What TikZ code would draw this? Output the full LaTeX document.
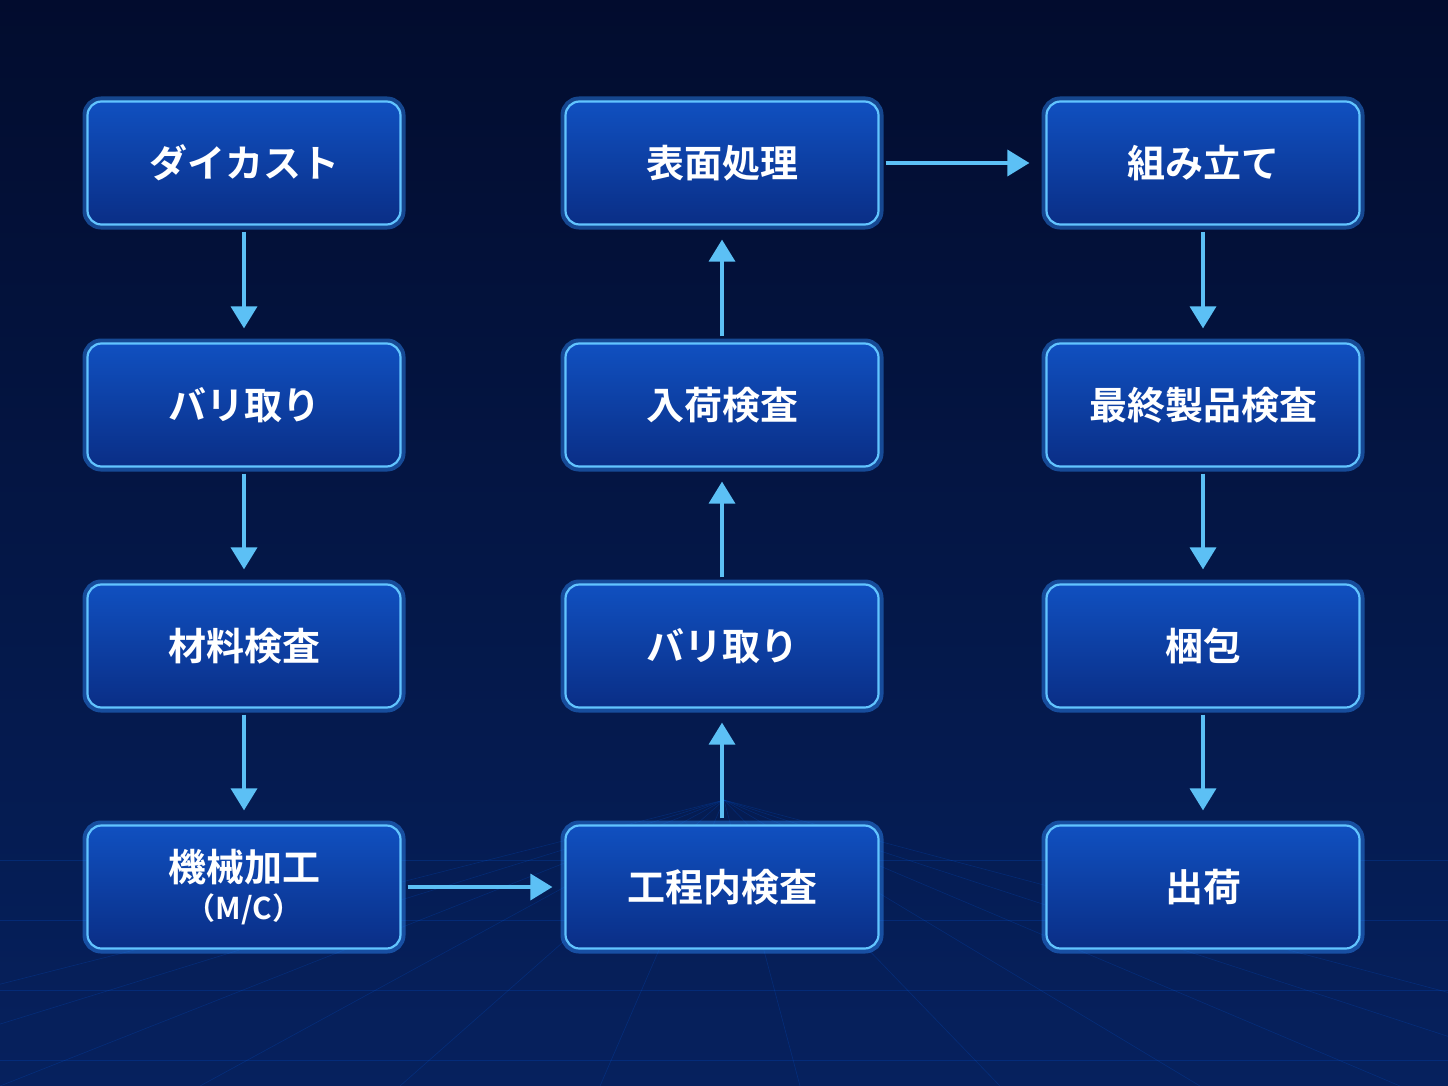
\documentclass[tikz,border=0pt]{standalone}
\usepackage{fontspec}
\newfontfamily\cjk{Noto Sans CJK JP}[BoldFont={Noto Sans CJK JP Bold}]
\usetikzlibrary{arrows.meta}
\definecolor{bgA}{HTML}{020C2E}
\definecolor{bgB}{HTML}{06215E}
\definecolor{boxA}{HTML}{1050C0}
\definecolor{boxB}{HTML}{0A2E86}
\definecolor{edge}{HTML}{62C4FF}
\definecolor{glowc}{HTML}{2E8CFF}
\definecolor{arr}{HTML}{5CC0F5}
\begin{document}
\begin{tikzpicture}[x=1pt,y=-1pt,
  glow/.style={draw=glowc,line width=9pt,rounded corners=14pt,opacity=0.45},
  box/.style={draw=edge,line width=2.2pt,rounded corners=14pt,top color=boxA,bottom color=boxB,
    minimum width=313pt,minimum height=123pt,text=white,font=\cjk\bfseries\fontsize{38}{44}\selectfont,align=center},
  flow/.style={draw=arr,line width=3.5pt,-{Triangle[length=22pt,width=26pt]}}]
\fill[top color=bgA,bottom color=bgB] (0,0) rectangle (1448,1086);
\useasboundingbox (0,0) rectangle (1448,1086);
\begin{scope}[draw=blue!60!cyan,opacity=0.18,line width=0.6pt]
\foreach \x in {-400,-200,...,1800} \draw (724,800) -- (\x,1086);
\foreach \y in {860,920,990,1060} \draw (0,\y) -- (1448,\y);
\end{scope}
\foreach \n/\x/\y/\t in {a/244/163/ダイカスト,b/244/405/バリ取り,c/244/646/材料検査,d/244/887/{機械加工\\[-6pt]{\fontsize{30}{34}\selectfont（M/C）}},
 e/722/887/工程内検査,f/722/646/バリ取り,g/722/405/入荷検査,h/722/163/表面処理,
 i/1203/163/組み立て,j/1203/405/最終製品検査,k/1203/646/梱包,l/1203/887/出荷}{
 \draw[glow] (\x-157,\y-62) rectangle (\x+157,\y+62);
 \node[box] (\n) at (\x,\y) {\t};
}
\draw[flow] ([yshift=-6pt]a.south) -- ([yshift=14pt]b.north);
\draw[flow] ([yshift=-6pt]b.south) -- ([yshift=14pt]c.north);
\draw[flow] ([yshift=-6pt]c.south) -- ([yshift=14pt]d.north);
\draw[flow] ([xshift=6pt]d.east) -- ([xshift=-12pt]e.west);
\draw[flow] ([yshift=6pt]e.north) -- ([yshift=-14pt]f.south);
\draw[flow] ([yshift=6pt]f.north) -- ([yshift=-14pt]g.south);
\draw[flow] ([yshift=6pt]g.north) -- ([yshift=-14pt]h.south);
\draw[flow] ([xshift=6pt]h.east) -- ([xshift=-16pt]i.west);
\draw[flow] ([yshift=-6pt]i.south) -- ([yshift=14pt]j.north);
\draw[flow] ([yshift=-6pt]j.south) -- ([yshift=14pt]k.north);
\draw[flow] ([yshift=-6pt]k.south) -- ([yshift=14pt]l.north);
\end{tikzpicture}
\end{document}
